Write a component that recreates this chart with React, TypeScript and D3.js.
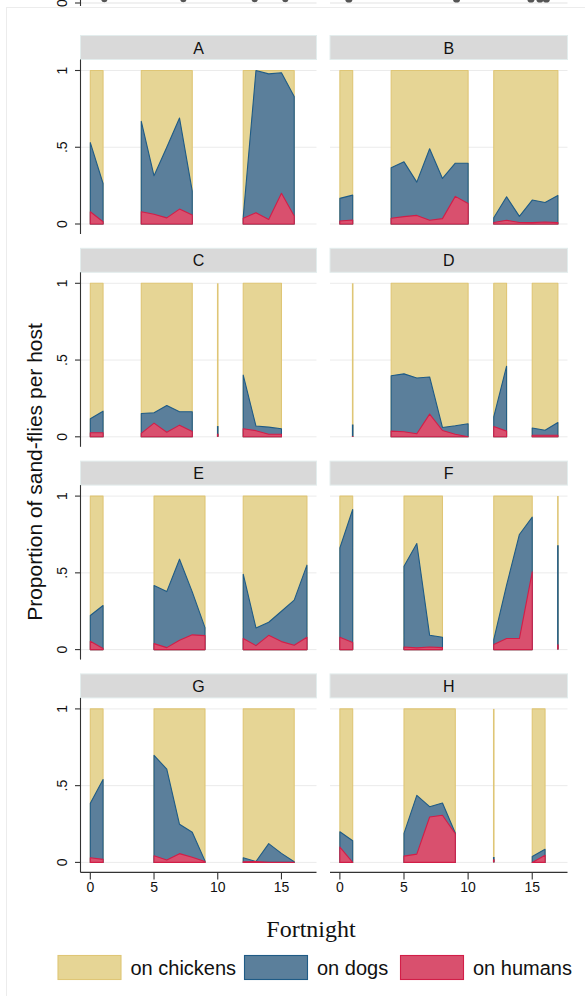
import React from 'react';
import * as d3 from 'd3';

// fortnights and shares per host, one set per panel
const panelNames = ['A', 'B', 'C', 'D', 'E', 'F', 'G', 'H'];

const fortA = [0, 1, 4, 5, 6, 7, 8, 12, 13, 14, 15, 16];
const humansA = [0.08, 0.015, 0.08, 0.063, 0.04, 0.097, 0.058, 0.037, 0.074, 0.03, 0.2, 0.052];
const dogsA = [0.45, 0.249, 0.589, 0.251, 0.46, 0.593, 0.156, 0.008, 0.926, 0.948, 0.785, 0.778];

const fortB = [0, 1, 4, 5, 6, 7, 8, 9, 10, 12, 13, 14, 15, 16, 17];
const humansB = [0.02, 0.026, 0.037, 0.048, 0.056, 0.024, 0.035, 0.18, 0.134, 0.01, 0.024, 0.01, 0.009, 0.013, 0.009];
const dogsB = [0.147, 0.162, 0.329, 0.357, 0.217, 0.466, 0.262, 0.216, 0.262, 0.031, 0.153, 0.04, 0.147, 0.127, 0.177];

const fortC = [0, 1, 4, 5, 6, 7, 8, 10, 12, 13, 14, 15];
const humansC = [0.026, 0.026, 0.022, 0.089, 0.03, 0.076, 0.035, 0.02, 0.052, 0.04, 0.017, 0.017];
const dogsC = [0.091, 0.141, 0.13, 0.068, 0.174, 0.087, 0.128, 0.05, 0.35, 0.03, 0.046, 0.035];

const fortD = [1, 4, 5, 6, 7, 8, 9, 10, 12, 13, 15, 16, 17];
const humansD = [0.005, 0.037, 0.033, 0.02, 0.148, 0.041, 0.017, 0, 0.067, 0.037, 0.01, 0.01, 0.01];
const dogsD = [0.075, 0.361, 0.377, 0.363, 0.242, 0.02, 0.055, 0.085, 0.063, 0.423, 0.047, 0.033, 0.083];

const fortE = [0, 1, 5, 6, 7, 8, 9, 12, 13, 14, 15, 16, 17];
const humansE = [0.054, 0.007, 0.039, 0.013, 0.061, 0.096, 0.091, 0.072, 0.026, 0.093, 0.052, 0.028, 0.08];
const dogsE = [0.168, 0.28, 0.378, 0.365, 0.528, 0.28, 0.052, 0.419, 0.115, 0.085, 0.198, 0.294, 0.47];

const fortF = [0, 1, 5, 6, 7, 8, 12, 13, 14, 15, 17];
const humansF = [0.08, 0.046, 0.017, 0.011, 0.017, 0.013, 0.033, 0.072, 0.072, 0.507, 0.033];
const dogsF = [0.583, 0.867, 0.526, 0.68, 0.076, 0.067, 0.032, 0.348, 0.678, 0.356, 0.647];

const fortG = [0, 1, 5, 6, 7, 8, 9, 12, 13, 14, 15, 16];
const humansG = [0.03, 0.02, 0.043, 0.015, 0.057, 0.033, 0.006, 0.004, 0.006, 0, 0, 0];
const dogsG = [0.355, 0.52, 0.655, 0.592, 0.191, 0.163, 0.004, 0.026, 0, 0.122, 0.059, 0.004];

const fortH = [0, 1, 5, 6, 7, 8, 9, 12, 15, 16];
const humansH = [0.1, 0, 0.041, 0.054, 0.296, 0.307, 0.187, 0.02, 0, 0.046];
const dogsH = [0.1, 0.141, 0.148, 0.383, 0.067, 0.08, 0.004, 0.015, 0.039, 0.039];

const fortnights = [fortA, fortB, fortC, fortD, fortE, fortF, fortG, fortH];
const humans = [humansA, humansB, humansC, humansD, humansE, humansF, humansG, humansH];
const dogs = [dogsA, dogsB, dogsC, dogsD, dogsE, dogsF, dogsG, dogsH];

const yTicks = [0, 0.5, 1];
const yTickLabels = ['0', '.5', '1'];
const xTicks = [0, 5, 10, 15];
const legendLabels = ['on chickens', 'on dogs', 'on humans'];

// bits of the figure above, cut off at the top edge
const prevDotsLeft = [1.1, 7.3, 12.9, 15.3];
const prevDotsRight = [0.7, 9.1, 14.9, 15.6, 16.1];

const fills = ['#e6d595', '#5b7f9b', '#d9506e'];
const strokes = ['#dfc676', '#1f5b86', '#d21e48'];
const SANS = '"Liberation Sans", Arial, Helvetica, sans-serif';

const cols = [
  { x0: 80.5, x1: 316.5 },
  { x0: 330, x1: 567.5 },
];

interface Pt { f: number; top: number; }

const Panel = ({ idx }: { idx: number }) => {
  const col = idx % 2;
  const row = Math.floor(idx / 2);
  const yOne = 70.5 + 212.8 * row;
  const yZero = yOne + 153.5;
  const { x0, x1 } = cols[col];
  const x = d3.scaleLinear().domain([-0.77, 17.75]).range([x0, x1]);
  const y = d3.scaleLinear().domain([0, 1]).range([yZero, yOne]);

  const fs = fortnights[idx];
  const hs = humans[idx];
  const ds = dogs[idx];

  // split into runs of consecutive fortnights
  const blocks: number[][] = [];
  fs.forEach((f, i) => {
    const last = blocks[blocks.length - 1];
    if (last && fs[last[last.length - 1]] === f - 1) last.push(i);
    else blocks.push([i]);
  });

  const layers = [
    (i: number) => 1,
    (i: number) => hs[i] + ds[i],
    (i: number) => hs[i],
  ];

  const area = d3.area<Pt>().x(p => x(p.f)).y0(yZero).y1(p => y(p.top));
  const stripTop = yOne - 35;
  const plotTop = yOne - 11;
  const plotBottom = yZero + 10;

  return (
    <g>
      <rect x={x0} y={stripTop} width={x1 - x0} height={24} fill="#d9d9d9" stroke="#e3eded" strokeWidth={1} />
      <text x={(x0 + x1) / 2} y={stripTop + 18} textAnchor="middle" fontFamily={SANS} fontSize={16} fill="#111">
        {panelNames[idx]}
      </text>
      {yTicks.map(t => (
        <line key={t} x1={x0} x2={x1} y1={y(t)} y2={y(t)} stroke="#ebebeb" strokeWidth={1} />
      ))}
      {blocks.map((b, bi) =>
        layers.map((fn, li) => {
          const pts: Pt[] = b.map(i => ({ f: fs[i], top: fn(i) }));
          if (pts.length === 1) {
            return (
              <line key={`${bi}-${li}`} x1={x(pts[0].f)} x2={x(pts[0].f)} y1={yZero} y2={y(pts[0].top)}
                stroke={strokes[li]} strokeWidth={1.6} />
            );
          }
          return (
            <path key={`${bi}-${li}`} d={area(pts) as string} fill={fills[li]} stroke={strokes[li]}
              strokeWidth={1.1} strokeLinejoin="round" />
          );
        })
      )}
      {col === 0 && (
        <g>
          <line x1={x0} x2={x0} y1={plotTop} y2={plotBottom} stroke="#333" strokeWidth={1.1} />
          {yTicks.map((t, i) => (
            <g key={t}>
              <line x1={x0 - 5.5} x2={x0} y1={y(t)} y2={y(t)} stroke="#333" strokeWidth={1.1} />
              <text transform={`translate(${67},${y(t)}) rotate(-90)`} textAnchor="middle" fontFamily={SANS}
                fontSize={14} fill="#111">
                {yTickLabels[i]}
              </text>
            </g>
          ))}
        </g>
      )}
      {row === 3 && (
        <g>
          <line x1={x0} x2={x1} y1={plotBottom} y2={plotBottom} stroke="#333" strokeWidth={1.1} />
          {xTicks.map(t => (
            <g key={t}>
              <line x1={x(t)} x2={x(t)} y1={plotBottom} y2={plotBottom + 7} stroke="#333" strokeWidth={1.1} />
              <text x={x(t)} y={plotBottom + 20} textAnchor="middle" fontFamily={SANS} fontSize={14} fill="#111">
                {t}
              </text>
            </g>
          ))}
        </g>
      )}
    </g>
  );
};

const App = () => {
  const xl = d3.scaleLinear().domain([-0.77, 17.75]).range([cols[0].x0, cols[0].x1]);
  const xr = d3.scaleLinear().domain([-0.77, 17.75]).range([cols[1].x0, cols[1].x1]);
  const legendX = [58, 244.5, 400.5];
  return (
    <svg width={585} height={996} style={{ position: 'absolute', left: 0, top: 0, background: '#fff' }}>
      {/* cut-off remains of the figure above */}
      <line x1={cols[0].x0} x2={cols[0].x1} y1={3} y2={3} stroke="#e3e3e3" strokeWidth={1} />
      <line x1={cols[1].x0} x2={cols[1].x1} y1={3} y2={3} stroke="#e3e3e3" strokeWidth={1} />
      <line x1={cols[0].x0} x2={cols[0].x0} y1={0} y2={6} stroke="#333" strokeWidth={1.1} />
      <line x1={cols[0].x0 - 5.5} x2={cols[0].x0} y1={3} y2={3} stroke="#333" strokeWidth={1.1} />
      <text transform="translate(67,3) rotate(-90)" textAnchor="middle" fontFamily={SANS} fontSize={14} fill="#111">0</text>
      {prevDotsLeft.map((f, i) => <circle key={`l${i}`} cx={xl(f)} cy={-1} r={3.2} fill="#555" />)}
      {prevDotsRight.map((f, i) => <circle key={`r${i}`} cx={xr(f)} cy={-1} r={3.6} fill="#555" />)}
      <rect x={6.5} y={7.5} width={600} height={1000} fill="#fff" stroke="#ececec" strokeWidth={1} />

      {panelNames.map((_, i) => <Panel key={i} idx={i} />)}

      <text transform="translate(42,472) rotate(-90)" textAnchor="middle" fontFamily={SANS} fontSize={21} fill="#111">
        Proportion of sand-flies per host
      </text>
      <text x={311} y={937} textAnchor="middle" fontFamily='"Liberation Serif", "Times New Roman", serif' fontSize={24}
        fill="#111">
        Fortnight
      </text>
      {legendLabels.map((lab, i) => (
        <g key={lab}>
          <rect x={legendX[i]} y={955.5} width={63} height={24} fill={fills[i]} stroke={strokes[i]} strokeWidth={1.1} />
          <text x={legendX[i] + 72.5} y={975} fontFamily={SANS} fontSize={20} fill="#111">{lab}</text>
        </g>
      ))}
    </svg>
  );
};

export default App;
